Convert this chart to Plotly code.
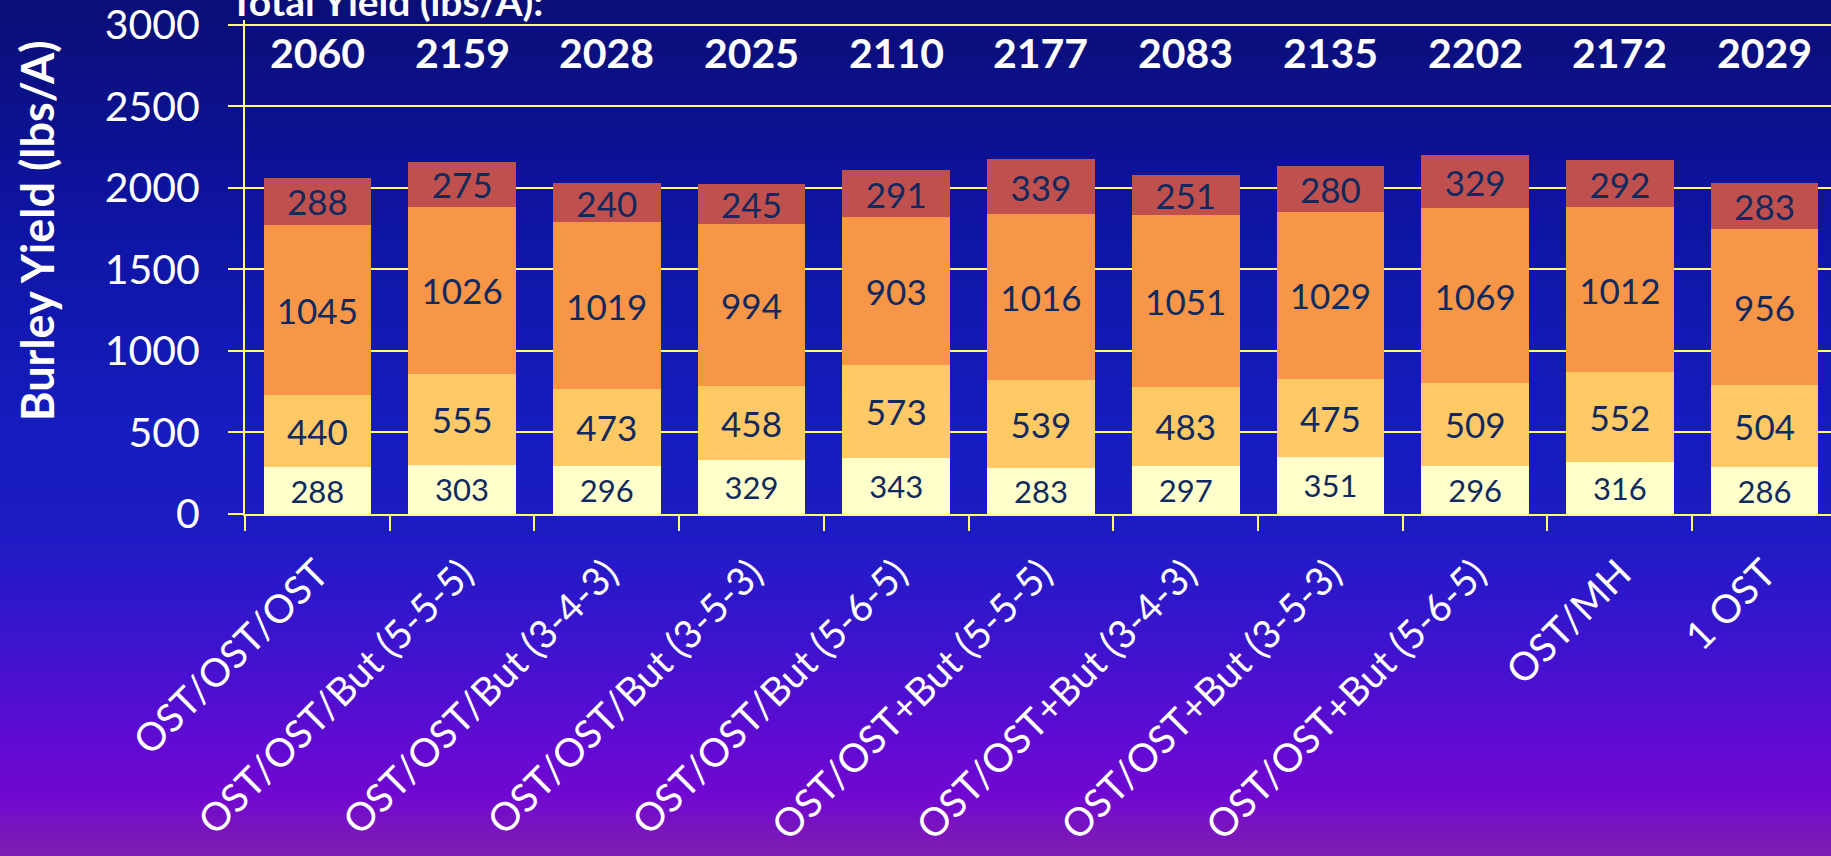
import numpy as np
import plotly.graph_objects as go

# ---------------- data ----------------
categories = [
    "OST/OST/OST", "OST/OST/But (5-5-5)", "OST/OST/But (3-4-3)",
    "OST/OST/But (3-5-3)", "OST/OST/But (5-6-5)", "OST/OST+But (5-5-5)",
    "OST/OST+But (3-4-3)", "OST/OST+But (3-5-3)", "OST/OST+But (5-6-5)",
    "OST/MH", "1 OST",
]
seg1 = [288, 303, 296, 329, 343, 283, 297, 351, 296, 316, 286]
seg2 = [440, 555, 473, 458, 573, 539, 483, 475, 509, 552, 504]
seg3 = [1045, 1026, 1019, 994, 903, 1016, 1051, 1029, 1069, 1012, 956]
seg4 = [288, 275, 240, 245, 291, 339, 251, 280, 329, 292, 283]
totals = [2060, 2159, 2028, 2025, 2110, 2177, 2083, 2135, 2202, 2172, 2029]
y_ticks = [0, 500, 1000, 1500, 2000, 2500, 3000]

# ---------------- style ----------------
W, H = 1831, 856
ML, MR, MT, MB = 245, 0, 20, 342
Y_MAX = 3030
X_RANGE = [-0.5, 10.459]
FONT = "Lato"
LABEL_COL = "#10295E"
GRID_COL = "#FFFF70"
seg_colors = ["#FFFFCC", "#FFC966", "#F79646", "#C0504D"]
seg_font = [31, 35, 35, 35]

fig = go.Figure()
for vals, col, fs in zip([seg1, seg2, seg3, seg4], seg_colors, seg_font):
    fig.add_trace(go.Bar(
        x=categories, y=vals, marker=dict(color=col, line=dict(width=0)),
        text=[str(v) for v in vals], textposition="inside", textangle=0,
        insidetextanchor="middle", constraintext="none",
        textfont=dict(family=FONT, size=fs, color=LABEL_COL),
        hoverinfo="skip", showlegend=False,
    ))

plot_w = W - ML - MR
plot_h = H - MT - MB

# totals row
for c, t in zip(categories, totals):
    fig.add_annotation(x=c, xref="x", y=2830, yref="y", text=f"<b>{t}</b>",
                       showarrow=False, font=dict(family=FONT, size=41, color="white"))

# cut-off heading
fig.add_annotation(x=(228 - ML) / plot_w, xref="paper", xanchor="left",
                   y=(H - MB - 1) / plot_h, yref="paper", yanchor="middle",
                   text="<b>Total Yield (lbs/A):</b>", showarrow=False,
                   font=dict(family=FONT, size=39, color="white"))

# y title
fig.add_annotation(x=(37 - ML) / plot_w, xref="paper", xanchor="center",
                   y=(H - MB - 231) / plot_h, yref="paper", yanchor="middle",
                   text="<b>Burley Yield (lbs/A)</b>", textangle=-90, showarrow=False,
                   font=dict(family=FONT, size=45, color="white"))

# gradient background strips
stops = [(0, (10, 14, 118)), (214, (14, 20, 160)), (428, (22, 28, 190)),
         (530, (28, 28, 196)), (642, (60, 20, 205)), (753, (100, 10, 210)),
         (796, (112, 8, 208)), (856, (128, 30, 176))]
sp = np.array([s[0] for s in stops], float)
sc = np.array([s[1] for s in stops], float)
step = 4
for py in range(0, H, step):
    mid = py + step / 2
    col = [int(round(np.interp(mid, sp, sc[:, k]))) for k in range(3)]
    fig.add_shape(type="rect", xref="paper", yref="paper", layer="below",
                  x0=(0 - ML) / plot_w - 0.01, x1=1.01,
                  y0=(H - MB - (py + step + 0.5)) / plot_h, y1=(H - MB - py + 0.5) / plot_h,
                  line=dict(width=0), fillcolor=f"rgb({col[0]},{col[1]},{col[2]})")

# top gridline (plotly skips the grid line nearest the plot edge)
fig.add_shape(type="line", xref="x", yref="y", layer="between",
              x0=X_RANGE[0], x1=X_RANGE[1], y0=y_ticks[-1], y1=y_ticks[-1],
              line=dict(color=GRID_COL, width=2))

fig.update_layout(
    width=W, height=H, barmode="stack", bargap=0.256,
    margin=dict(l=ML, r=MR, t=MT, b=MB, pad=0),
    paper_bgcolor="rgb(22,28,190)", plot_bgcolor="rgba(0,0,0,0)",
    font=dict(family=FONT, color="white"),
)
fig.update_xaxes(
    type="category", range=X_RANGE, tickson="boundaries",
    ticks="outside", ticklen=15, tickwidth=2, tickcolor=GRID_COL,
    showline=True, linecolor=GRID_COL, linewidth=2, showgrid=False,
    tickangle=-45, tickfont=dict(family=FONT, size=39, color="white"),
    ticklabelstandoff=19, ticklabeloverflow="allow",
)
fig.update_yaxes(
    range=[0, Y_MAX], tickvals=y_ticks, ticks="outside", ticklen=15, tickwidth=2,
    tickcolor=GRID_COL, showline=True, linecolor=GRID_COL, linewidth=2,
    showgrid=True, gridcolor=GRID_COL, gridwidth=2, zeroline=False,
    tickfont=dict(family=FONT, size=41, color="white"), ticklabelstandoff=20,
    ticklabeloverflow="allow",
)

fig.write_html(
    "out.html",
    config={"displayModeBar": False},
    post_script="document.body.style.margin='0';document.body.style.overflow='hidden';",
)
